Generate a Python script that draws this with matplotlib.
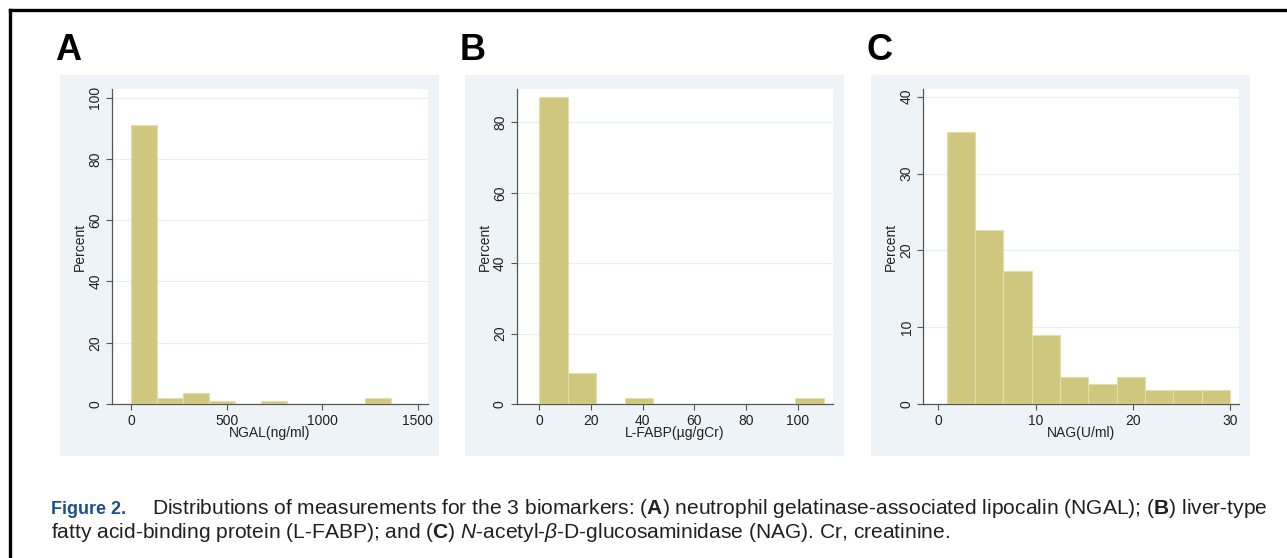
import numpy as np
import matplotlib
matplotlib.use("Agg")
import matplotlib.pyplot as plt
from matplotlib.patches import Rectangle
from matplotlib.lines import Line2D

plt.rcParams["font.family"] = ["Liberation Sans", "DejaVu Sans"]
plt.rcParams["mathtext.fontset"] = "custom"
plt.rcParams["mathtext.rm"] = "Liberation Sans"
plt.rcParams["mathtext.bf"] = "Liberation Sans:bold"
plt.rcParams["mathtext.it"] = "Liberation Sans:italic"

# percent per bin
ngal_start, ngal_width = 0, 136
ngal_pct = [91.0, 1.8, 3.6, 0.9, 0, 0.9, 0, 0, 0, 1.8]
fabp_start, fabp_width = 0, 11
fabp_pct = [87.3, 8.9, 0, 1.8, 0, 0, 0, 0, 0, 1.8]
nag_start, nag_width = 0.86, 2.914
nag_pct = [35.4, 22.7, 17.35, 9.04, 3.57, 2.65, 3.57, 1.83, 1.83, 1.83]

panels = [
    ("A", "NGAL(ng/ml)", ngal_start, ngal_width, ngal_pct,
     [0, 500, 1000, 1500], (-100, 1554), [0, 20, 40, 60, 80, 100], 102.8, 112),
    ("B", "L-FABP(µg/gCr)", fabp_start, fabp_width, fabp_pct,
     [0, 20, 40, 60, 80, 100], (-8.8, 113.5), [0, 20, 40, 60, 80], 89.5, 516.7),
    ("C", "NAG(U/ml)", nag_start, nag_width, nag_pct,
     [0, 10, 20, 30], (-1.54, 30.96), [0, 10, 20, 30, 40], 41.0, 923.3),
]

W, H = 1287, 558
fig = plt.figure(figsize=(W / 100, H / 100), dpi=100)
fig.patch.set_facecolor("white")

bar_col = "#CFC77D"
edge_col = "#E4DEAE"
bg_col = "#EEF3F7"
axis_col = "#555555"

for letter, xlab, start, width, pct, xt, xlim, yt, ytop, left in panels:
    # light blue graph region behind each panel
    fig.add_artist(Rectangle(((left - 52) / W, 1 - 456 / H), 379 / W, 381 / H,
                             transform=fig.transFigure, facecolor=bg_col,
                             edgecolor="none", zorder=-5))
    ax = fig.add_axes([left / W, 1 - 404 / H, 316 / W, 315 / H])
    ax.set_facecolor("white")
    lefts = start + width * np.arange(len(pct))
    ax.bar(lefts, pct, width=width, align="edge", color=bar_col,
           edgecolor=edge_col, linewidth=0.8, zorder=3)
    ax.set_xlim(*xlim)
    ax.set_ylim(0, ytop)
    ax.set_xticks(xt)
    ax.set_yticks(yt)
    for y in yt[1:]:
        ax.axhline(y, color="#E6EFF2", lw=0.8, zorder=1)
    for s in ["top", "right"]:
        ax.spines[s].set_visible(False)
    for s in ["left", "bottom"]:
        ax.spines[s].set_color(axis_col)
        ax.spines[s].set_linewidth(0.9)
    ax.tick_params(length=4, width=0.8, color=axis_col, labelsize=10,
                   labelcolor="#222222", pad=3)
    for lbl in ax.get_yticklabels():
        lbl.set_rotation(90)
        lbl.set_va("center")
    ax.set_xlabel(xlab, fontsize=10, color="#222222", labelpad=-1)
    ax.set_ylabel("Percent", fontsize=10, color="#222222", labelpad=1)
    fig.text((left - 57) / W, 1 - 51 / H, letter, fontsize=26, fontweight="bold",
             ha="left", va="center")

# frame lines on left and top
fig.add_artist(Line2D([9.5 / W, 9.5 / W], [0, 1 - 9.5 / H], color="black", lw=2.4,
                      transform=fig.transFigure))
fig.add_artist(Line2D([9.5 / W, 1], [1 - 9.5 / H, 1 - 9.5 / H], color="black", lw=2.4,
                      transform=fig.transFigure))

cap_col = "#231F20"
fig.text(51 / W, 1 - 509 / H, "Figure 2.", fontsize=13, fontweight="bold",
         family=["Liberation Sans Narrow", "Liberation Sans"], color="#1B4F8F",
         ha="left", va="center")
line1 = (r"Distributions of measurements for the 3 biomarkers: ($\mathbf{A}$) neutrophil "
         r"gelatinase-associated lipocalin (NGAL); ($\mathbf{B}$) liver-type")
line2 = (r"fatty acid-binding protein (L-FABP); and ($\mathbf{C}$) $\mathit{N}$-acetyl-"
         r"$\mathit{\beta}$-D-glucosaminidase (NAG). Cr, creatinine.")
t1 = fig.text(152 / W, 1 - 509 / H, line1, fontsize=13, color=cap_col, ha="left",
              va="center")
t2 = fig.text(51 / W, 1 - 533 / H, line2, fontsize=13, color=cap_col, ha="left",
              va="center")

# scale caption so the first line runs to the same right edge as the original
r = fig.canvas.get_renderer()
fs = 13 * (1262 - 152) / t1.get_window_extent(r).width
t1.set_fontsize(fs)
t2.set_fontsize(fs)

fig.savefig("out.png", dpi=100)
